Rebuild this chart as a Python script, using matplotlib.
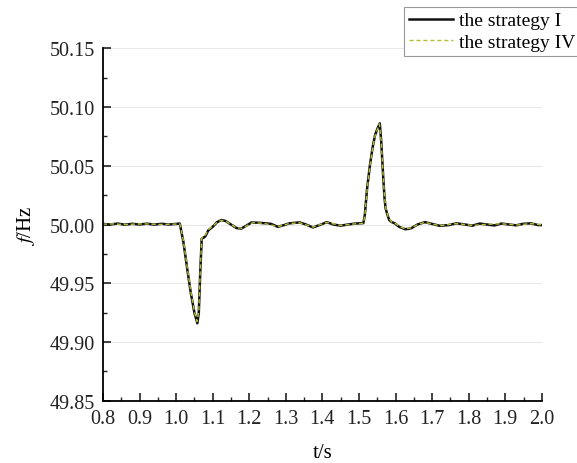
import matplotlib.pyplot as plt
from matplotlib.ticker import MultipleLocator

plt.rcParams['font.family'] = ['Liberation Serif', 'DejaVu Serif']
plt.rcParams['mathtext.fontset'] = 'stix'

# values
t_I = [0.80, 0.82, 0.84, 0.86, 0.88, 0.90, 0.92, 0.94, 0.96, 0.98, 1.00, 1.010,
       1.020, 1.030, 1.040, 1.050, 1.058, 1.062, 1.066, 1.070, 1.076, 1.080, 1.088,
       1.100, 1.112, 1.124, 1.135, 1.150, 1.165, 1.178, 1.192, 1.206, 1.225, 1.245,
       1.260, 1.278, 1.295, 1.310, 1.338, 1.355, 1.374, 1.392, 1.412, 1.430, 1.450,
       1.470, 1.490, 1.512, 1.516, 1.522, 1.530, 1.537, 1.544, 1.551, 1.557, 1.561,
       1.566, 1.570, 1.573, 1.578, 1.583, 1.590, 1.598, 1.610, 1.626, 1.636, 1.644,
       1.660, 1.680, 1.700, 1.721, 1.745, 1.767, 1.790, 1.810, 1.830, 1.850, 1.870,
       1.890, 1.910, 1.930, 1.950, 1.970, 1.990, 2.000]
f_I = [50.0005, 50.0000, 50.0008, 49.9998, 50.0006, 50.0000, 50.0007, 49.9999, 50.0006,
       50.0000, 50.0005, 50.0008, 49.9850, 49.9630, 49.9420, 49.9250, 49.9160, 49.9250,
       49.9600, 49.9880, 49.9890, 49.9900, 49.9950, 49.9980, 50.0020, 50.0038, 50.0030,
       50.0000, 49.9970, 49.9965, 49.9990, 50.0017, 50.0015, 50.0010, 50.0005, 49.9980,
       49.9995, 50.0010, 50.0018, 50.0000, 49.9975, 49.9995, 50.0020, 50.0000, 49.9990,
       50.0000, 50.0008, 50.0012, 50.0080, 50.0300, 50.0505, 50.0650, 50.0760, 50.0820,
       50.0860, 50.0700, 50.0420, 50.0220, 50.0136, 50.0080, 50.0037, 50.0020, 50.0010,
       49.9980, 49.9960, 49.9963, 49.9970, 50.0000, 50.0020, 50.0005, 49.9989, 49.9995,
       50.0010, 50.0000, 49.9990, 50.0008, 50.0000, 49.9992, 50.0008, 50.0000, 49.9993,
       50.0006, 50.0010, 49.9995, 49.9995]

t_IV = [0.80, 0.83, 0.86, 0.89, 0.92, 0.95, 0.98, 1.000, 1.010, 1.020, 1.030, 1.040,
        1.050, 1.057, 1.062, 1.066, 1.070, 1.078, 1.088, 1.100, 1.112, 1.124, 1.136,
        1.150, 1.165, 1.180, 1.195, 1.210, 1.240, 1.278, 1.310, 1.338, 1.374, 1.412,
        1.450, 1.490, 1.512, 1.516, 1.522, 1.530, 1.537, 1.544, 1.551, 1.556, 1.561,
        1.566, 1.570, 1.574, 1.580, 1.590, 1.600, 1.612, 1.626, 1.644, 1.662, 1.680,
        1.700, 1.722, 1.767, 1.810, 1.850, 1.890, 1.930, 1.970, 2.000]
f_IV = [50.0003, 50.0005, 49.9999, 50.0004, 50.0005, 50.0000, 50.0002, 50.0004, 50.0006,
        49.9860, 49.9640, 49.9430, 49.9260, 49.9175, 49.9260, 49.9610, 49.9885, 49.9900,
        49.9955, 49.9985, 50.0018, 50.0035, 50.0028, 50.0000, 49.9972, 49.9968, 49.9992,
        50.0015, 50.0010, 49.9982, 50.0008, 50.0015, 49.9978, 50.0018, 49.9992, 50.0006,
        50.0010, 50.0075, 50.0290, 50.0500, 50.0645, 50.0755, 50.0815, 50.0855, 50.0700,
        50.0425, 50.0225, 50.0130, 50.0060, 50.0020, 50.0008, 49.9982, 49.9962, 49.9972,
        50.0002, 50.0018, 50.0004, 49.9990, 50.0008, 49.9992, 50.0002, 50.0006, 49.9995,
        50.0008, 49.9997]

fig = plt.figure(figsize=(5.77, 4.64), dpi=100)
ax = fig.add_axes([0.1785, 0.134, 0.7605, 0.760])

ax.plot(t_I, f_I, color='#111111', linewidth=1.8, label='the strategy I')
ax.plot(t_IV, f_IV, color='#b5bf3a', linewidth=1.0, linestyle=(0, (3, 2)),
        label='the strategy IV')

ax.set_xlim(0.8, 2.0)
ax.set_ylim(49.85, 50.15)
ax.xaxis.set_major_locator(MultipleLocator(0.1))
ax.xaxis.set_minor_locator(MultipleLocator(0.05))
ax.yaxis.set_major_locator(MultipleLocator(0.05))
ax.yaxis.set_minor_locator(MultipleLocator(0.025))
ax.xaxis.set_major_formatter(plt.FormatStrFormatter('%.1f'))
ax.yaxis.set_major_formatter(plt.FormatStrFormatter('%.2f'))

ax.spines['top'].set_visible(False)
ax.spines['right'].set_visible(False)
ax.spines['left'].set_linewidth(1.3)
ax.spines['bottom'].set_linewidth(1.3)
ax.tick_params(which='both', direction='in', labelsize=14.5, colors='#222222')
ax.tick_params(which='major', length=6, width=1.2, pad=6)
ax.tick_params(which='minor', length=3, width=1.0)
ax.grid(True, axis='y', color='#e8e8e8', linewidth=0.8)
ax.set_axisbelow(True)

ax.set_xlabel('t/s', fontsize=15, labelpad=11)
ax.set_ylabel(r'$f$/Hz', fontsize=15, labelpad=9)

leg = fig.legend(loc='upper left', bbox_to_anchor=(0.700, 0.983), fontsize=14,
                 frameon=True, fancybox=False, edgecolor='#999999', framealpha=1,
                 handlelength=2.3, handletextpad=0.3, borderpad=0.25,
                 labelspacing=0.2, borderaxespad=0)
leg.get_frame().set_linewidth(0.8)

plt.savefig('out.png', dpi=100)
